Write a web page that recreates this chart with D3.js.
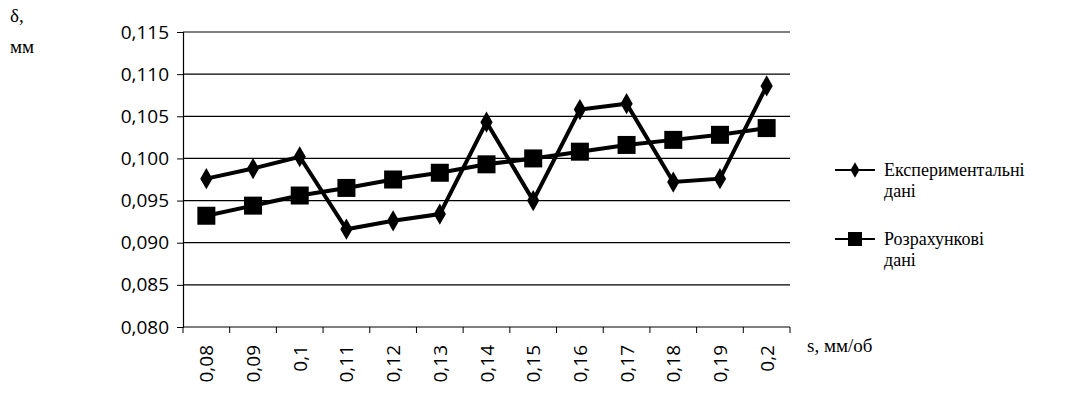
<!DOCTYPE html>
<html><head><meta charset="utf-8">
<script src="https://cdn.jsdelivr.net/npm/d3@7"></script>
<style>body{margin:0;background:#fff}</style></head>
<body><div id="chart"></div>
<script>
const categories = ["0,08","0,09","0,1","0,11","0,12","0,13","0,14","0,15","0,16","0,17","0,18","0,19","0,2"];
const experimental = [0.0976,0.0988,0.1002,0.0916,0.0926,0.0934,0.1043,0.0950,0.1058,0.1065,0.0972,0.0976,0.1086];
const calculated = [0.0932,0.0944,0.0956,0.0965,0.0975,0.0983,0.0993,0.1000,0.1008,0.1016,0.1022,0.1028,0.1036];
const yTicks = [0.080,0.085,0.090,0.095,0.100,0.105,0.110,0.115];

const W = 1092, H = 408;
const margin = { top: 32, left: 183, right: 302, bottom: 81 };
const svg = d3.select("#chart").append("svg").attr("width", W).attr("height", H);
const g = svg.append("g").attr("transform", "translate(" + margin.left + "," + margin.top + ")");
const width = W - margin.left - margin.right, height = H - margin.top - margin.bottom;

const x = d3.scaleBand().domain(categories).range([0, width]);
const y = d3.scaleLinear().domain([0.080, 0.115]).range([height, 0]);
const cx = d => x(d) + x.bandwidth() / 2;

// gridlines
g.selectAll("line.grid").data(yTicks.slice(1)).enter().append("line")
  .attr("x1", 0).attr("x2", width).attr("y1", d => y(d)).attr("y2", d => y(d))
  .attr("stroke", "#000").attr("stroke-width", 1.2);

// Y axis
const yAxis = g.append("g").call(d3.axisLeft(y).tickValues(yTicks).tickSize(6)
  .tickFormat(d => d3.format(".3f")(d).replace(".", ",")));
yAxis.select(".domain").attr("stroke-width", 1.2);
yAxis.selectAll("text").style("font-family", "'Open Sans', sans-serif").style("font-size", "19px").attr("x", -14);

// X axis
g.append("line").attr("x1", 0).attr("x2", width).attr("y1", height).attr("y2", height).attr("stroke", "#000").attr("stroke-width", 1.2);
g.selectAll("line.xt").data(categories.concat([null])).enter().append("line")
  .attr("x1", (d, i) => i * x.bandwidth()).attr("x2", (d, i) => i * x.bandwidth())
  .attr("y1", height).attr("y2", height + 6).attr("stroke", "#000");
g.selectAll("text.xl").data(categories).enter().append("text")
  .attr("transform", d => "translate(" + (cx(d) + 7) + "," + (height + 18) + ") rotate(-90)")
  .attr("text-anchor", "end").style("font-family", "'Open Sans', sans-serif").style("font-size", "19px").text(d => d);

// lines
const line = d3.line().x((d, i) => cx(categories[i])).y(d => y(d));
g.append("path").datum(calculated).attr("d", line).attr("fill", "none").attr("stroke", "#000").attr("stroke-width", 4);
g.append("path").datum(experimental).attr("d", line).attr("fill", "none").attr("stroke", "#000").attr("stroke-width", 4);
g.selectAll("rect.c").data(calculated).enter().append("rect")
  .attr("x", (d, i) => cx(categories[i]) - 9).attr("y", d => y(d) - 9).attr("width", 18).attr("height", 18).attr("fill", "#000");
g.selectAll("path.e").data(experimental).enter().append("path")
  .attr("d", d3.symbol(d3.symbolDiamond, 130))
  .attr("transform", (d, i) => "translate(" + cx(categories[i]) + "," + y(d) + ")").attr("fill", "#000");

// axis titles
const serif = "'Liberation Serif', 'DejaVu Serif', serif";
svg.append("text").attr("x", 10).attr("y", 22).style("font-family", serif).style("font-size", "19px").text("δ,");
svg.append("text").attr("x", 10).attr("y", 53).style("font-family", serif).style("font-size", "19px").text("мм");
svg.append("text").attr("x", 807).attr("y", 352).style("font-family", serif).style("font-size", "19px").text("s, мм/об");

// legend
const leg = svg.append("g");
const legendItems = [{ y: 170, t: ["Експериментальні", "дані"], sq: false }, { y: 239, t: ["Розрахункові", "дані"], sq: true }];
legendItems.forEach(it => {
  leg.append("line").attr("x1", 835).attr("x2", 875).attr("y1", it.y).attr("y2", it.y).attr("stroke", "#000").attr("stroke-width", 2);
  if (it.sq) leg.append("rect").attr("x", 848).attr("y", it.y - 7).attr("width", 14).attr("height", 14);
  else leg.append("path").attr("d", d3.symbol(d3.symbolDiamond, 70)).attr("transform", "translate(855," + it.y + ")");
  it.t.forEach((s, k) => leg.append("text").attr("x", 884).attr("y", it.y + 6 + k * 21)
    .style("font-family", serif).style("font-size", "18px").text(s));
});
</script></body></html>
